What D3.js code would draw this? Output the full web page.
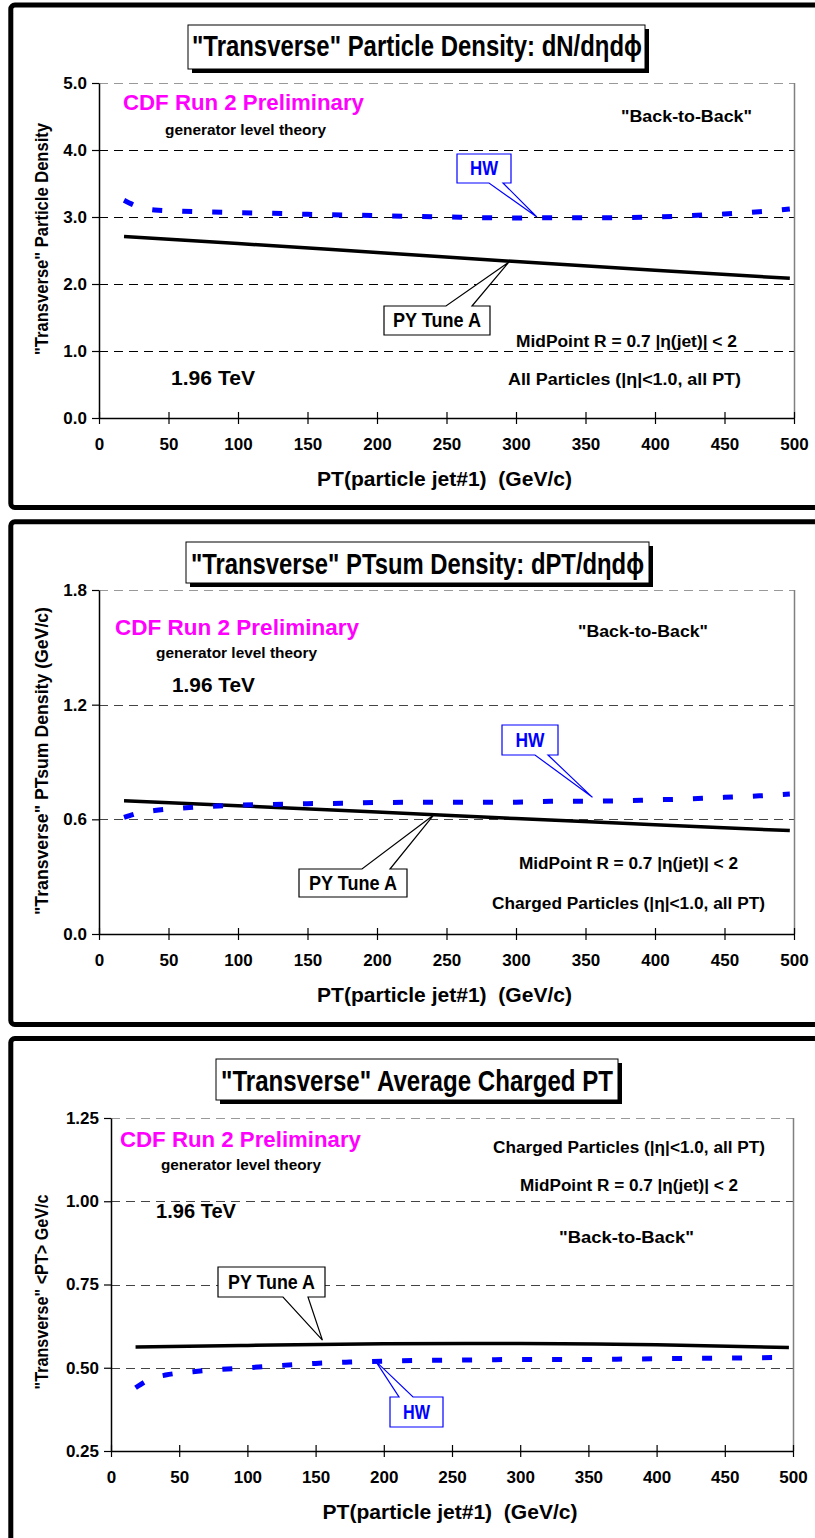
<!DOCTYPE html>
<html>
<head>
<meta charset="utf-8">
<script src="https://cdn.jsdelivr.net/npm/d3@7"></script>
<style>
  html, body { margin: 0; padding: 0; background: #fff; }
  svg { display: block; }
  text { font-family: "Liberation Sans", Arial, sans-serif; font-weight: bold; }
</style>
</head>
<body>
<svg id="chart" width="815" height="1538"></svg>
<script>
// ---- data -------------------------------------------------------------
const xTicks = [0, 50, 100, 150, 200, 250, 300, 350, 400, 450, 500];

// PYTHIA Tune A (solid black)
const ptPY = [18, 100, 200, 300, 400, 497];
const pyDensity = [2.71, 2.605, 2.47, 2.335, 2.205, 2.085];
const pyPTsum   = [0.697, 0.671, 0.638, 0.604, 0.572, 0.541];
const pyAvgPT   = [0.562, 0.567, 0.572, 0.573, 0.569, 0.561];

// HERWIG (blue dotted)
const ptHW = [18, 30, 40, 60, 80, 100, 125, 150, 175, 200, 225, 250, 275, 300, 325, 350, 375, 400, 425, 450, 475, 497];
const hwDensity = [3.25, 3.14, 3.105, 3.085, 3.075, 3.065, 3.055, 3.04, 3.03, 3.02, 3.01, 3.0, 2.99, 2.985, 2.99, 2.99, 2.99, 3.0, 3.02, 3.045, 3.08, 3.12];
const hwPTsum   = [0.61, 0.635, 0.646, 0.659, 0.668, 0.674, 0.678, 0.682, 0.684, 0.688, 0.689, 0.689, 0.689, 0.69, 0.694, 0.695, 0.697, 0.702, 0.707, 0.715, 0.723, 0.732];
const hwAvgPT   = [0.44, 0.468, 0.478, 0.488, 0.495, 0.5, 0.507, 0.513, 0.517, 0.52, 0.522, 0.523, 0.524, 0.525, 0.525, 0.525, 0.526, 0.527, 0.528, 0.529, 0.53, 0.531];

const yTicksDensity = [0, 1, 2, 3, 4, 5];
const yTicksPTsum   = [0, 0.6, 1.2, 1.8];
const yTicksAvgPT   = [0.25, 0.5, 0.75, 1.0, 1.25];

// ---- layout -----------------------------------------------------------
const svg = d3.select("#chart");
const FONT = '"Liberation Sans", Arial, sans-serif';

// bold text, optionally squeezed to a given width and stretched vertically
function txt(g, s, x, y, o = {}) {
  const ky = o.ky || 1.1;
  const t = g.append("text")
    .attr("x", 0).attr("y", 0)
    .attr("font-size", o.size || 15)
    .attr("fill", o.fill || "#000")
    .attr("text-anchor", o.anchor || "start")
    .attr("transform", `translate(${x},${y})${o.rotate ? " rotate(" + o.rotate + ")" : ""} scale(1,${ky})`)
    .text(s);
  if (o.width) t.attr("textLength", o.width).attr("lengthAdjust", "spacingAndGlyphs");
  return t;
}

function callout(g, box, side, b1, b2, tip, color, label, lsize, lwidth) {
  const { x0, y0, x1, y1 } = box;
  let d;
  if (side === "top") {
    d = `M${x0},${y0}H${b1}L${tip[0]},${tip[1]}L${b2},${y0}H${x1}V${y1}H${x0}Z`;
  } else {
    d = `M${x0},${y0}H${x1}V${y1}H${b2}L${tip[0]},${tip[1]}L${b1},${y1}H${x0}Z`;
  }
  g.append("path").attr("d", d).attr("fill", "#fff").attr("stroke", color).attr("stroke-width", 1.2);
  txt(g, label, (x0 + x1) / 2, (y0 + y1) / 2 + lsize * 0.4, { size: lsize, fill: color, anchor: "middle", width: lwidth, ky: 1.15 });
}

const panels = [
  {
    frame: { top: 5, bottom: 507.5 },
    plot: { left: 99, right: 794, top: 83, bottom: 418 },
    yDomain: [0, 5], yTicks: yTicksDensity, yFmt: d3.format(".1f"),
    grid: "#000",
    py: pyDensity, hw: hwDensity,
    title: { text: "\"Transverse\" Particle Density: dN/d\u03b7d\u03d5", box: [188, 25, 645, 69], x: 192, base: 56, width: 450 },
    yTitle: { text: "\"Transverse\" Particle Density", x: 48, y: 239, len: 232 },
    labels: [
      { s: "CDF Run 2 Preliminary", x: 123, y: 110, size: 19, width: 241, fill: "#ff00ff" },
      { s: "generator level theory", x: 165, y: 135, size: 13, width: 161 },
      { s: "\"Back-to-Back\"", x: 621, y: 122, size: 15, width: 131 },
      { s: "MidPoint R = 0.7 |\u03b7(jet)| < 2", x: 516, y: 347, size: 15, width: 221 },
      { s: "All Particles (|\u03b7|<1.0, all PT)", x: 508, y: 385, size: 15, width: 233 },
      { s: "1.96 TeV", x: 171, y: 385, size: 18, width: 84 }
    ],
    hwCall: { box: { x0: 457, y0: 154, x1: 511, y1: 183 }, side: "bottom", b1: 489, b2: 503, at: [315, 3.0], w: 28 },
    pyCall: { box: { x0: 384, y0: 306, x1: 490, y1: 335 }, side: "top", b1: 446, b2: 472, at: [295, 2.33], w: 88 }
  },
  {
    frame: { top: 521.8, bottom: 1024.5 },
    plot: { left: 99, right: 794, top: 590, bottom: 934 },
    yDomain: [0, 1.8], yTicks: yTicksPTsum, yFmt: d3.format(".1f"),
    grid: "#444",
    py: pyPTsum, hw: hwPTsum,
    title: { text: "\"Transverse\" PTsum Density: dPT/d\u03b7d\u03d5", box: [186, 542, 649, 583], x: 191, base: 574, width: 453 },
    yTitle: { text: "\"Transverse\" PTsum Density (GeV/c)", x: 48, y: 761, len: 308 },
    labels: [
      { s: "CDF Run 2 Preliminary", x: 115, y: 635, size: 19, width: 244, fill: "#ff00ff" },
      { s: "generator level theory", x: 156, y: 658, size: 13, width: 161 },
      { s: "\"Back-to-Back\"", x: 578, y: 637, size: 15, width: 130 },
      { s: "MidPoint R = 0.7 |\u03b7(jet)| < 2", x: 519, y: 869, size: 15, width: 219 },
      { s: "Charged Particles (|\u03b7|<1.0, all PT)", x: 492, y: 909, size: 15, width: 273 },
      { s: "1.96 TeV", x: 172, y: 692, size: 18, width: 83 }
    ],
    hwCall: { box: { x0: 502, y0: 725, x1: 558, y1: 755 }, side: "bottom", b1: 535, b2: 548, at: [355, 0.715], w: 29 },
    pyCall: { box: { x0: 299, y0: 869, x1: 407, y1: 897 }, side: "top", b1: 362, b2: 390, at: [241, 0.624], w: 88 }
  },
  {
    frame: { top: 1038.5, bottom: 1560 },
    plot: { left: 111, right: 793, top: 1118, bottom: 1451 },
    yDomain: [0.25, 1.25], yTicks: yTicksAvgPT, yFmt: d3.format(".2f"),
    grid: "#444",
    py: pyAvgPT, hw: hwAvgPT,
    title: { text: "\"Transverse\" Average Charged PT", box: [216, 1059, 618, 1100], x: 221, base: 1091, width: 392 },
    yTitle: { text: "\"Transverse\" <PT> GeV/c", x: 48, y: 1292, len: 195 },
    labels: [
      { s: "CDF Run 2 Preliminary", x: 120, y: 1147, size: 19, width: 241, fill: "#ff00ff" },
      { s: "generator level theory", x: 161, y: 1170, size: 13, width: 160 },
      { s: "Charged Particles (|\u03b7|<1.0, all PT)", x: 493, y: 1153, size: 15, width: 272 },
      { s: "MidPoint R = 0.7 |\u03b7(jet)| < 2", x: 520, y: 1191, size: 15, width: 218 },
      { s: "\"Back-to-Back\"", x: 559, y: 1243, size: 15, width: 135 },
      { s: "1.96 TeV", x: 156, y: 1218, size: 18, width: 80 }
    ],
    hwCall: { box: { x0: 390, y0: 1397, x1: 443, y1: 1427 }, side: "top", b1: 399, b2: 413, at: [194, 0.52], w: 27 },
    pyCall: { box: { x0: 218, y0: 1267, x1: 325, y1: 1297 }, side: "bottom", b1: 283, b2: 308, at: [155, 0.583], w: 87 }
  }
];

panels.forEach(p => {
  const g = svg.append("g");
  const { left, right, top, bottom } = p.plot;

  // outer frame (runs off the right edge)
  g.append("rect")
    .attr("x", 10.8).attr("y", p.frame.top)
    .attr("width", 840).attr("height", p.frame.bottom - p.frame.top)
    .attr("rx", 4)
    .attr("fill", "none").attr("stroke", "#000").attr("stroke-width", 5);

  const x = d3.scaleLinear().domain([0, 500]).range([left, right]);
  const y = d3.scaleLinear().domain(p.yDomain).range([bottom, top]);

  // gridlines
  const inner = p.yTicks.slice(1, -1);
  g.selectAll(null).data(inner).join("line")
    .attr("x1", left).attr("x2", right)
    .attr("y1", d => Math.round(y(d)) + 0.5).attr("y2", d => Math.round(y(d)) + 0.5)
    .attr("stroke", p.grid).attr("stroke-width", 1).attr("stroke-dasharray", "9,6")
    .attr("shape-rendering", "crispEdges");
  const yMax = p.yTicks[p.yTicks.length - 1];
  g.append("line")
    .attr("x1", left).attr("x2", right).attr("y1", Math.round(y(yMax)) + 0.5).attr("y2", Math.round(y(yMax)) + 0.5)
    .attr("stroke", "#999").attr("stroke-width", 1).attr("stroke-dasharray", "9,6")
    .attr("shape-rendering", "crispEdges");
  g.append("line")
    .attr("x1", right + 0.5).attr("x2", right + 0.5).attr("y1", y(yMax)).attr("y2", bottom)
    .attr("stroke", "#808080").attr("stroke-width", 1.5);

  // axes
  const xAxis = g.append("g").attr("transform", `translate(0,${bottom})`)
    .call(d3.axisBottom(x).tickValues(xTicks).tickFormat(d3.format("d")).tickSize(6).tickSizeOuter(0).tickPadding(14));
  xAxis.select(".domain").attr("stroke", "#000").attr("stroke-width", 1.5);
  xAxis.selectAll(".tick line").attr("y1", -6).attr("stroke", "#000").attr("stroke-width", 1.2);
  xAxis.selectAll(".tick text").attr("font-family", FONT).attr("font-weight", "bold")
    .attr("font-size", 17).attr("fill", "#000");

  const yAxis = g.append("g").attr("transform", `translate(${left},0)`)
    .call(d3.axisLeft(y).tickValues(p.yTicks).tickFormat(p.yFmt).tickSize(7).tickSizeOuter(0).tickPadding(5));
  yAxis.select(".domain").attr("stroke", "#000").attr("stroke-width", 1.5);
  yAxis.selectAll(".tick line").attr("stroke", "#000").attr("stroke-width", 1.2);
  yAxis.selectAll(".tick text").attr("font-family", FONT).attr("font-weight", "bold")
    .attr("font-size", 17).attr("fill", "#000");

  // axis titles
  txt(g, "PT(particle jet#1)  (GeV/c)", (left + right) / 2 - 2, bottom + 68, { size: 18, anchor: "middle", width: 255, ky: 1.1 })
    .style("white-space", "pre");
  txt(g, p.yTitle.text, p.yTitle.x, p.yTitle.y, { size: 18, anchor: "middle", width: p.yTitle.len, rotate: -90, ky: 1.0 });

  // title box with drop shadow
  const [bx0, by0, bx1, by1] = p.title.box;
  g.append("rect").attr("x", bx0 + 4).attr("y", by0 + 4).attr("width", bx1 - bx0).attr("height", by1 - by0).attr("fill", "#000");
  g.append("rect").attr("x", bx0).attr("y", by0).attr("width", bx1 - bx0).attr("height", by1 - by0)
    .attr("fill", "#fff").attr("stroke", "#000").attr("stroke-width", 1);
  txt(g, p.title.text, p.title.x, p.title.base, { size: 27, width: p.title.width, ky: 1.1 });

  // annotations
  p.labels.forEach(l => txt(g, l.s, l.x, l.y, { size: l.size, width: l.width, fill: l.fill, ky: 1.12 }));

  // curves
  const linePY = d3.line().x((d, i) => x(ptPY[i])).y(d => y(d)).curve(d3.curveMonotoneX);
  const lineHW = d3.line().x((d, i) => x(ptHW[i])).y(d => y(d)).curve(d3.curveMonotoneX);
  g.append("path").attr("d", linePY(p.py)).attr("fill", "none")
    .attr("stroke", "#000").attr("stroke-width", 3.5);
  g.append("path").attr("d", lineHW(p.hw)).attr("fill", "none")
    .attr("stroke", "#0000ff").attr("stroke-width", 5).attr("stroke-dasharray", "10,20");

  // callouts
  const hc = p.hwCall, pc = p.pyCall;
  callout(g, hc.box, hc.side, hc.b1, hc.b2, [x(hc.at[0]), y(hc.at[1])], "#0000ff", "HW", 17, hc.w);
  callout(g, pc.box, pc.side, pc.b1, pc.b2, [x(pc.at[0]), y(pc.at[1])], "#000", "PY Tune A", 17, pc.w);
});
</script>
</body>
</html>
